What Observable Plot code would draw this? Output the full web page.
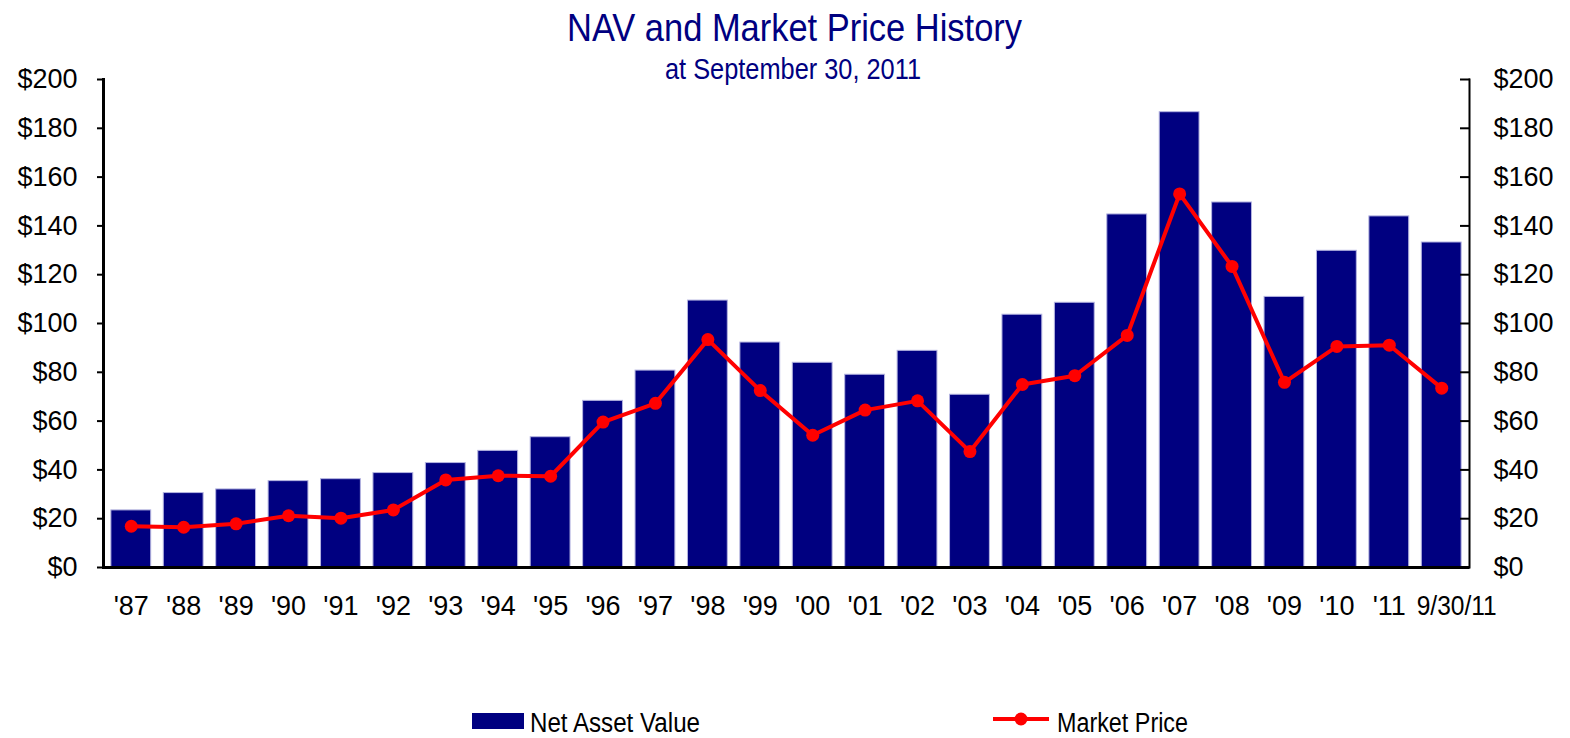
<!DOCTYPE html>
<html>
<head>
<meta charset="utf-8">
<script src="https://cdn.jsdelivr.net/npm/d3@7"></script>
<script src="https://cdn.jsdelivr.net/npm/@observablehq/plot@0.6"></script>
<style>
  html, body { margin: 0; padding: 0; background: #fff; }
  #wrap { position: relative; width: 1570px; height: 738px; overflow: hidden; font-family: "Liberation Sans", Arial, sans-serif; }
  .fit { position: absolute; white-space: nowrap; line-height: 1; transform-origin: left top; }
  .ttl { color: #000080; }
  .leg { position: absolute; }
  .legtxt { color: #000; font-size: 27px; }
  #chart svg { display: block; }
</style>
</head>
<body>
<div id="wrap">
  <div id="chart"></div>
  <div class="fit ttl" data-left="567" data-w="455" style="top:8px;font-size:39px;">NAV and Market Price History</div>
  <div class="fit ttl" data-left="665" data-w="256" style="top:55px;font-size:29px;">at September 30, 2011</div>
  <div class="leg" style="left:472px;top:713px;width:52px;height:16px;background:#000080;"></div>
  <div class="fit legtxt" data-left="530" data-w="170" style="top:710px;">Net Asset Value</div>
  <svg class="leg" style="left:990px;top:708px;" width="62" height="22">
    <line x1="3" y1="11" x2="59" y2="11" stroke="#ff0000" stroke-width="4"/>
    <circle cx="31" cy="11" r="6.5" fill="#ff0000"/>
  </svg>
  <div class="fit legtxt" data-left="1057" data-w="131" style="top:710px;">Market Price</div>
</div>
<script>
const categories = ["'87","'88","'89","'90","'91","'92","'93","'94","'95","'96","'97","'98","'99","'00","'01","'02","'03","'04","'05","'06","'07","'08","'09","'10","'11","9/30/11"];
const navValues = [23.4, 30.5, 32.0, 35.4, 36.2, 38.7, 42.8, 47.8, 53.4, 68.3, 80.7, 109.4, 92.2, 83.9, 79.0, 88.8, 70.8, 103.6, 108.5, 144.7, 186.6, 149.6, 110.9, 129.8, 143.9, 133.2];
const marketPrice = [16.9, 16.5, 17.9, 21.2, 20.2, 23.6, 35.9, 37.6, 37.4, 59.6, 67.3, 93.4, 72.5, 54.2, 64.5, 68.3, 47.5, 75.0, 78.6, 95.1, 153.1, 123.4, 75.9, 90.6, 91.1, 73.5];
const yTicks = [0, 20, 40, 60, 80, 100, 120, 140, 160, 180, 200];

const data = categories.map((c, i) => ({cat: c, nav: navValues[i], price: marketPrice[i]}));
const fmt = d => "$" + d;

const chart = Plot.plot({
  width: 1570,
  height: 738,
  marginTop: 79,
  marginBottom: 171,
  marginLeft: 103,
  marginRight: 101,
  style: {fontFamily: "'Liberation Sans', Arial, sans-serif", fontSize: "27px", color: "#000", background: "#fff"},
  x: {domain: categories, paddingInner: 0.24, paddingOuter: 0.15, round: false, label: null},
  y: {domain: [0, 200], label: null},
  marks: [
    Plot.barY(data, {x: "cat", y: "nav", fill: "#000080", stroke: "#b4b4e0", strokeWidth: 1}),
    Plot.line(data, {x: "cat", y: "price", stroke: "#ff0000", strokeWidth: 4}),
    Plot.dot(data, {x: "cat", y: "price", r: 6.5, fill: "#ff0000"}),
    Plot.axisY({anchor: "left", ticks: yTicks, tickFormat: fmt, tickSize: 6, tickPadding: 20, strokeWidth: 2, label: null}),
    Plot.axisY({anchor: "right", ticks: yTicks, tickFormat: () => "", tickSize: 10, dx: -10, strokeWidth: 2, label: null}),
    Plot.axisY({anchor: "right", ticks: yTicks, tickFormat: fmt, tickSize: 0, tickPadding: 24, label: null}),
    Plot.axisX({tickSize: 0, tickPadding: 28, label: null}),
    Plot.ruleY([0], {stroke: "#000", strokeWidth: 3}),
    Plot.frame({anchor: "left", stroke: "#000", strokeWidth: 3}),
    Plot.frame({anchor: "right", stroke: "#000", strokeWidth: 2})
  ]
});
document.getElementById("chart").appendChild(chart);

// the last category label is set condensed and nudged right in the reference
const xLabels = chart.querySelectorAll('[aria-label="x-axis tick label"] text');
if (xLabels.length) {
  const last = xLabels[xLabels.length - 1];
  last.setAttribute("font-size", "28");
  last.style.fontSize = "28px";
  last.setAttribute("textLength", "80");
  last.setAttribute("lengthAdjust", "spacingAndGlyphs");
  last.setAttribute("dx", "15");
}

// condensed look for the title and legend texts: squeeze each to its width in the reference
document.querySelectorAll(".fit").forEach(el => {
  const w = el.getBoundingClientRect().width;
  const target = +el.dataset.w;
  el.style.left = el.dataset.left + "px";
  el.style.transform = `scaleX(${target / w})`;
});
</script>
</body>
</html>
